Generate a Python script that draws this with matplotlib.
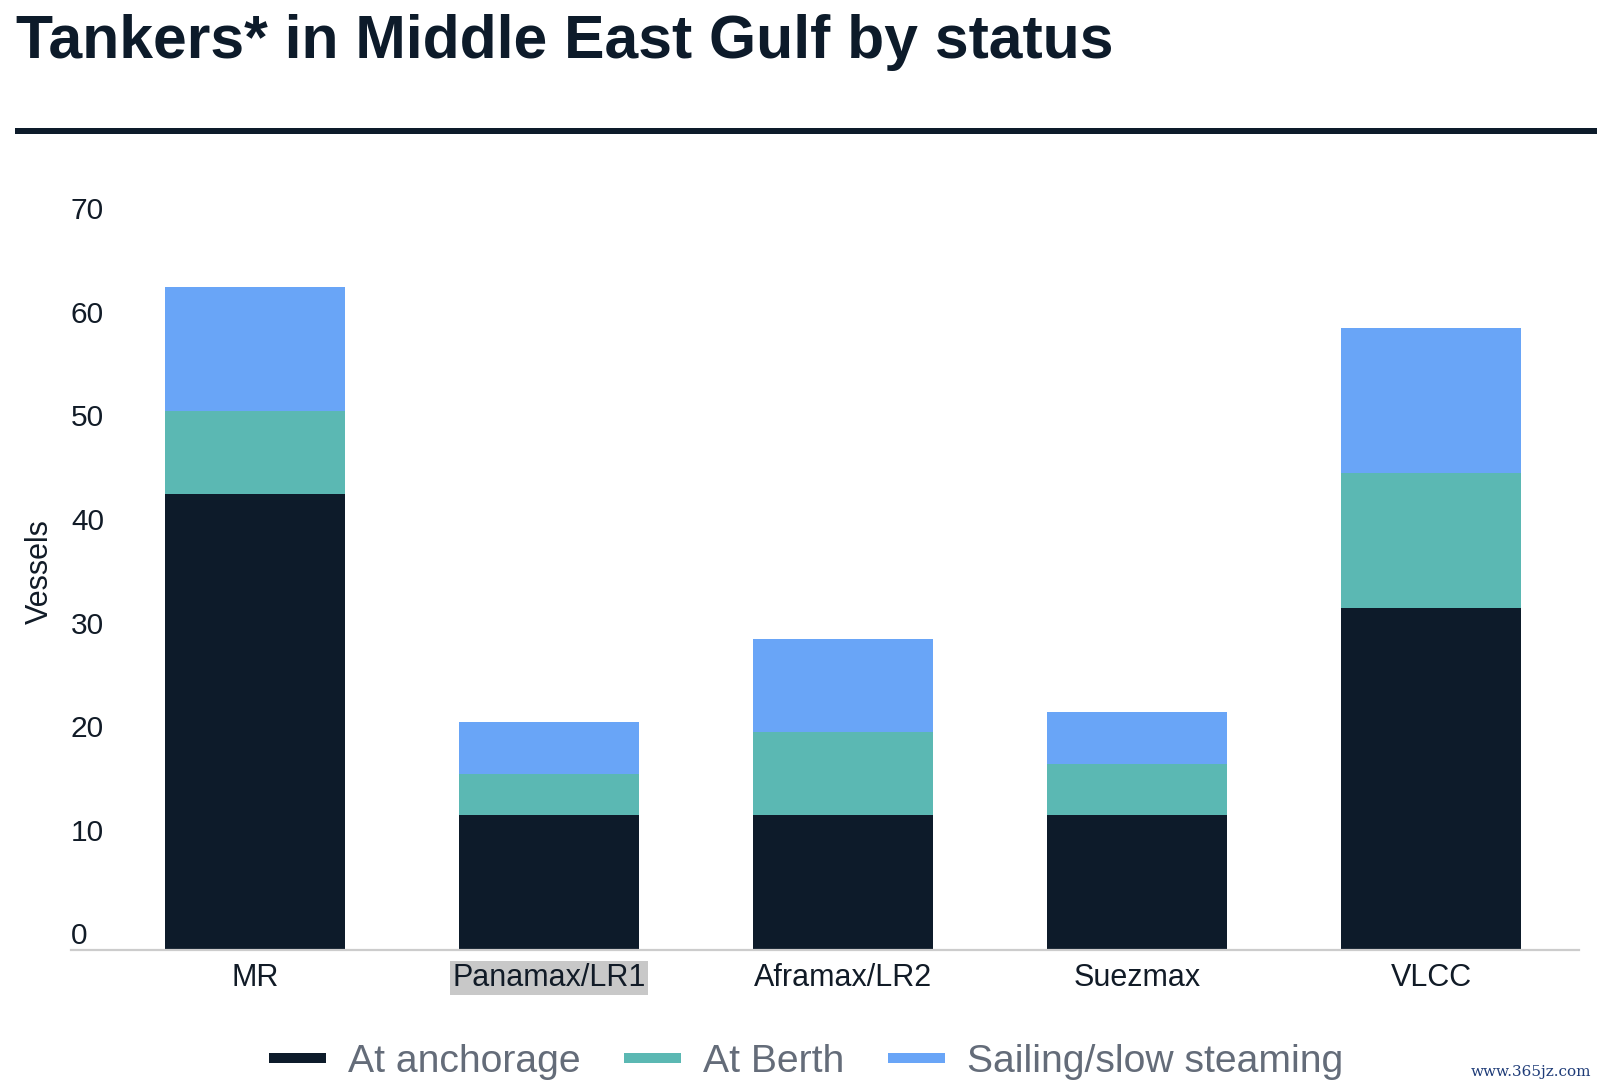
import matplotlib
matplotlib.use("Agg")
import matplotlib.pyplot as plt
import numpy as np
from matplotlib.lines import Line2D
from matplotlib.patches import Rectangle
from matplotlib.transforms import ScaledTranslation

categories = ["MR", "Panamax/LR1", "Aframax/LR2", "Suezmax", "VLCC"]
series_names = ["At anchorage", "At Berth", "Sailing/slow steaming"]
at_anchorage = [44, 13, 13, 13, 33]
at_berth = [8, 4, 8, 5, 13]
sailing = [12, 5, 9, 5, 14]
y_ticks = [0, 10, 20, 30, 40, 50, 60, 70]

colors = ["#0d1b2a", "#5bb8b3", "#69a5f7"]
plt.rcParams['font.family'] = ['Liberation Sans', 'DejaVu Sans']

W, H = 1597, 1087
fig = plt.figure(figsize=(W / 100, H / 100), dpi=100)

def fx(px):
    return px / W

def fy(py):
    return 1 - py / H

# Axes placement
ax_left, ax_right, ax_bottom, ax_top = 71, 1579, 950, 224.8
ax = fig.add_axes([fx(ax_left), fy(ax_bottom), fx(ax_right - ax_left), (ax_bottom - ax_top) / H])

x = np.arange(len(categories))
bw = 0.612
a = np.array(at_anchorage)
b = np.array(at_berth)
s = np.array(sailing)
ax.bar(x, a, width=bw, color=colors[0], linewidth=0)
ax.bar(x, b, width=bw, bottom=a, color=colors[1], linewidth=0)
ax.bar(x, s, width=bw, bottom=a + b, color=colors[2], linewidth=0)

ax.set_xlim(-0.626, 4.503)
ax.set_ylim(0, 70)
for sp in ["top", "right", "left"]:
    ax.spines[sp].set_visible(False)
ax.spines["bottom"].set_color("#cccccc")
ax.spines["bottom"].set_linewidth(1.6)

ax.set_xticks(x)
ax.set_xticklabels(categories)
ax.tick_params(axis="x", length=0, pad=9.5, labelsize=22, labelcolor="#111b27")
ax.set_yticks(y_ticks)
ax.set_yticklabels([str(v) for v in y_ticks])
ax.tick_params(axis="y", length=0, pad=0, labelsize=21.5, labelcolor="#111b27")
off = ScaledTranslation(0, 16.5 / 100, fig.dpi_scale_trans)
for t in ax.yaxis.get_major_ticks():
    t.label1.set_horizontalalignment("left")
    t.label1.set_transform(t.label1.get_transform() + off)

# highlight on Panamax/LR1 label
for lbl in ax.get_xticklabels():
    if lbl.get_text() == "Panamax/LR1":
        lbl.set_bbox(dict(facecolor="#c8c8c8", edgecolor="none", pad=1.5))

# y label
fig.text(fx(40), fy(572), "Vessels", rotation=90, ha="center", va="center",
         fontsize=22, color="#111b27")

# Title
fig.text(fx(16), fy(58), "Tankers* in Middle East Gulf by status", ha="left", va="baseline",
         fontsize=43.7, fontweight="bold", color="#0d1b2a")

# Rule under title
fig.add_artist(Rectangle((fx(15), fy(134)), 1 - fx(15), 6 / H, transform=fig.transFigure,
                         facecolor="#0d1b2a", edgecolor="none"))

# Legend
handles = [Line2D([0], [0], color=c, lw=7.2, solid_capstyle="butt") for c in colors]
leg = fig.legend(handles, series_names, loc="center", ncol=3,
                 bbox_to_anchor=(fx(806), fy(1062)), frameon=False,
                 fontsize=28.2, handlelength=1.47, handletextpad=0.56, columnspacing=1.1,
                 borderaxespad=0, borderpad=0)
for t in leg.get_texts():
    t.set_color("#646c79")

# Watermark
fig.text(fx(1531), fy(1072), "www.365jz.com", ha="center", va="center",
         fontsize=11, color="#1f3c78", family=["DejaVu Serif"])

fig.savefig("out.png", dpi=100)
